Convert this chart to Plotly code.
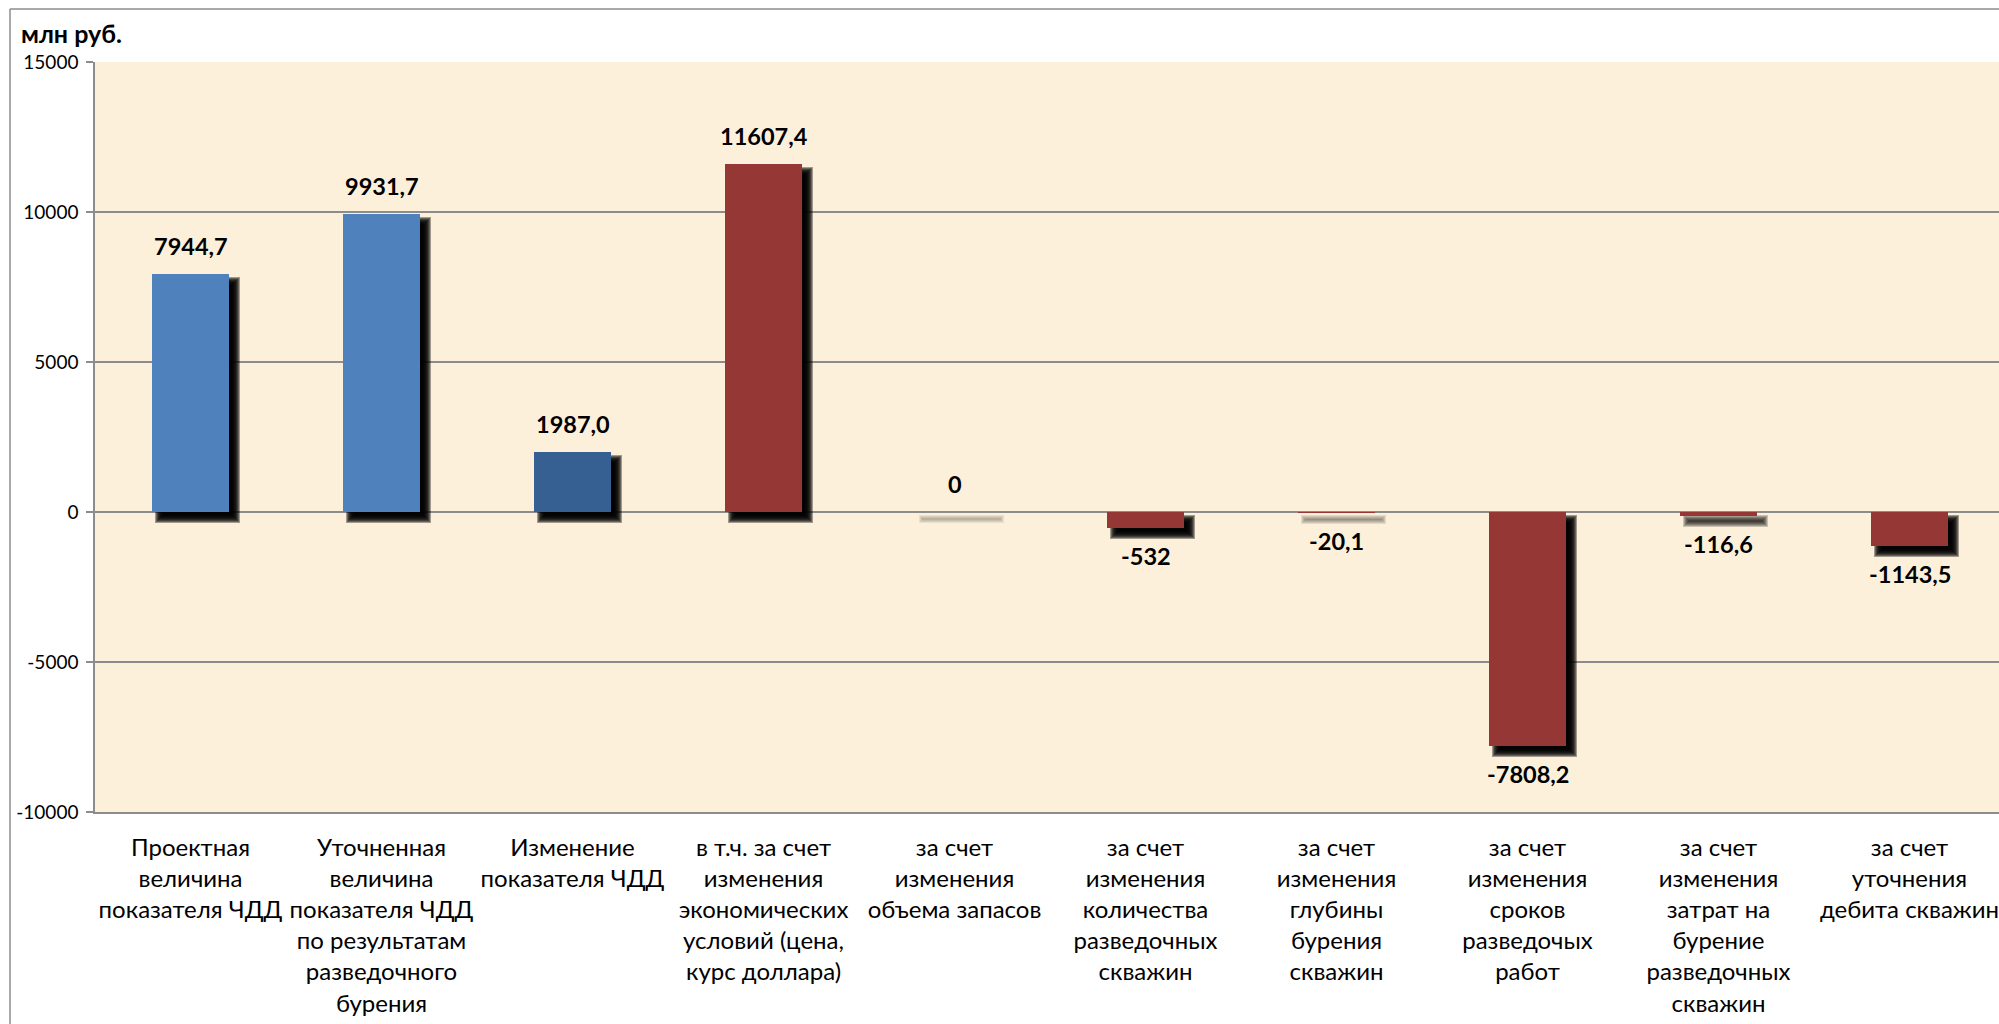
import plotly.graph_objects as go

# --- data -------------------------------------------------------------
categories = [
    "Проектная<br>величина<br>показателя ЧДД",
    "Уточненная<br>величина<br>показателя ЧДД<br>по результатам<br>разведочного<br>бурения",
    "Изменение<br>показателя ЧДД",
    "в т.ч. за счет<br>изменения<br>экономических<br>условий (цена,<br>курс доллара)",
    "за счет<br>изменения<br>объема запасов",
    "за счет<br>изменения<br>количества<br>разведочных<br>скважин",
    "за счет<br>изменения<br>глубины<br>бурения<br>скважин",
    "за счет<br>изменения<br>сроков<br>разведочых<br>работ",
    "за счет<br>изменения<br>затрат на<br>бурение<br>разведочных<br>скважин",
    "за счет<br>уточнения<br>дебита скважин",
]
values = [7944.7, 9931.7, 1987.0, 11607.4, 0, -532, -20.1, -7808.2, -116.6, -1143.5]
decimals = [1, 1, 1, 1, 0, 0, 1, 1, 1, 1]
y_ticks = [-10000, -5000, 0, 5000, 10000, 15000]
y_title = "млн руб."

# --- styling ----------------------------------------------------------
BLUE = "#4F81BD"
DARK_BLUE = "#366092"
RED = "#953735"
colors = [BLUE, BLUE, DARK_BLUE] + [RED] * 7
GRID = "#8C8C8C"
BG = "#FCF0DA"

W, H = 1999, 1024
M_L, M_R, M_T, M_B = 95, 0, 62, 212
plot_w = W - M_L - M_R
plot_h = H - M_T - M_B
cat_px = 191.0
x_range = [-0.5, -0.5 + plot_w / cat_px]
y_range = [-10000, 15000]

px_x = 1.0 / cat_px                              # category units per pixel
px_y = (y_range[1] - y_range[0]) / plot_h        # value units per pixel

BAR_W = 0.4
SH_DX, SH_DY = 7, 7                              # drop-shadow offset in px
BLUR = 4                                         # shadow softness in px

idx = list(range(len(categories)))
bar_h_px = [abs(v) / px_y for v in values]

fig = go.Figure()

# soft drop shadows: a stack of translucent rectangles grown/shrunk by k px;
# very thin bars cast a proportionally fainter shadow
for k in range(-BLUR, BLUR + 1):
    xs, ys, bases, alphas = [], [], [], []
    for i, v in enumerate(values):
        hk = bar_h_px[i] + 2 * k
        if hk <= 0:
            continue
        lo = min(0, v) - SH_DY * px_y - k * px_y
        xs.append(i)
        bases.append(lo)
        ys.append(hk * px_y)
        alphas.append(0.36 * min(1.0, (bar_h_px[i] + 2) / 10))
    if not xs:
        continue
    fig.add_trace(go.Bar(
        x=xs, y=ys, base=bases,
        width=BAR_W + 2 * k * px_x,
        offset=-BAR_W / 2 + SH_DX * px_x - k * px_x,
        marker=dict(color=[f"rgba(0,0,0,{a:.3f})" for a in alphas],
                    line=dict(width=0)),
        hoverinfo="skip", showlegend=False,
    ))

# main bars
fig.add_trace(go.Bar(
    x=idx, y=values, width=BAR_W, offset=-BAR_W / 2,
    marker=dict(color=colors, line=dict(width=0)),
    showlegend=False,
))

# value labels
for i, (v, d) in enumerate(zip(values, decimals)):
    txt = f"{v:.{d}f}".replace(".", ",")
    fig.add_annotation(
        x=i, y=v, text=txt, showarrow=False,
        xanchor="center", yanchor="middle",
        yshift=28 if v >= 0 else -28,
        font=dict(family="Lato", size=23.5, color="black", weight="bold"),
    )

# unit caption
fig.add_annotation(
    xref="paper", yref="paper",
    x=(19 - M_L) / plot_w, y=1 + (M_T - 33) / plot_h,
    text=y_title, showarrow=False, xanchor="left", yanchor="middle",
    font=dict(family="Lato", size=25, color="black", weight="bold"),
)

# outer chart frame (left and top edges)
fx = (10 - M_L) / plot_w
fy = 1 + (M_T - 9) / plot_h
fig.add_shape(type="line", xref="paper", yref="paper",
              x0=fx, x1=fx, y0=fy, y1=-0.5, line=dict(color=GRID, width=1.5))
fig.add_shape(type="line", xref="paper", yref="paper",
              x0=fx, x1=1.1, y0=fy, y1=fy, line=dict(color=GRID, width=1.5))

fig.update_layout(
    width=W, height=H,
    margin=dict(l=M_L, r=M_R, t=M_T, b=M_B, pad=0, autoexpand=False),
    paper_bgcolor="white", plot_bgcolor=BG,
    barmode="overlay", bargap=0,
    font=dict(family="Lato", color="black"),
    xaxis=dict(
        type="linear", range=x_range,
        tickmode="array", tickvals=idx, ticktext=categories,
        tickangle=0, automargin=False, ticklabeloverflow="allow",
        ticks="", showgrid=False, zeroline=False,
        showline=True, linecolor=GRID, linewidth=1.5,
        tickfont=dict(family="Lato", size=24, color="black"),
        ticklabelstandoff=13,
    ),
    xaxis2=dict(
        overlaying="x", anchor="free",
        position=(0 - y_range[0]) / (y_range[1] - y_range[0]),
        range=x_range, tickmode="array",
        tickvals=[i + 0.5 for i in idx[:-1]],
        ticks="outside", ticklen=7, tickwidth=1.5, tickcolor=GRID,
        showticklabels=False, showgrid=False, zeroline=False,
        showline=True, linecolor=GRID, linewidth=1.5,
        layer="below traces", automargin=False,
    ),
    yaxis=dict(
        range=y_range, tickmode="array", tickvals=y_ticks,
        ticktext=[str(t) for t in y_ticks], automargin=False,
        ticks="outside", ticklen=7, tickwidth=1.5, tickcolor=GRID,
        showgrid=True, gridcolor=GRID, gridwidth=1.5,
        zeroline=False, showline=True, linecolor=GRID, linewidth=1.5,
        mirror=True,
        tickfont=dict(family="Lato", size=19, color="black"),
        ticklabelstandoff=4,
    ),
)

fig.write_html("out.html")
